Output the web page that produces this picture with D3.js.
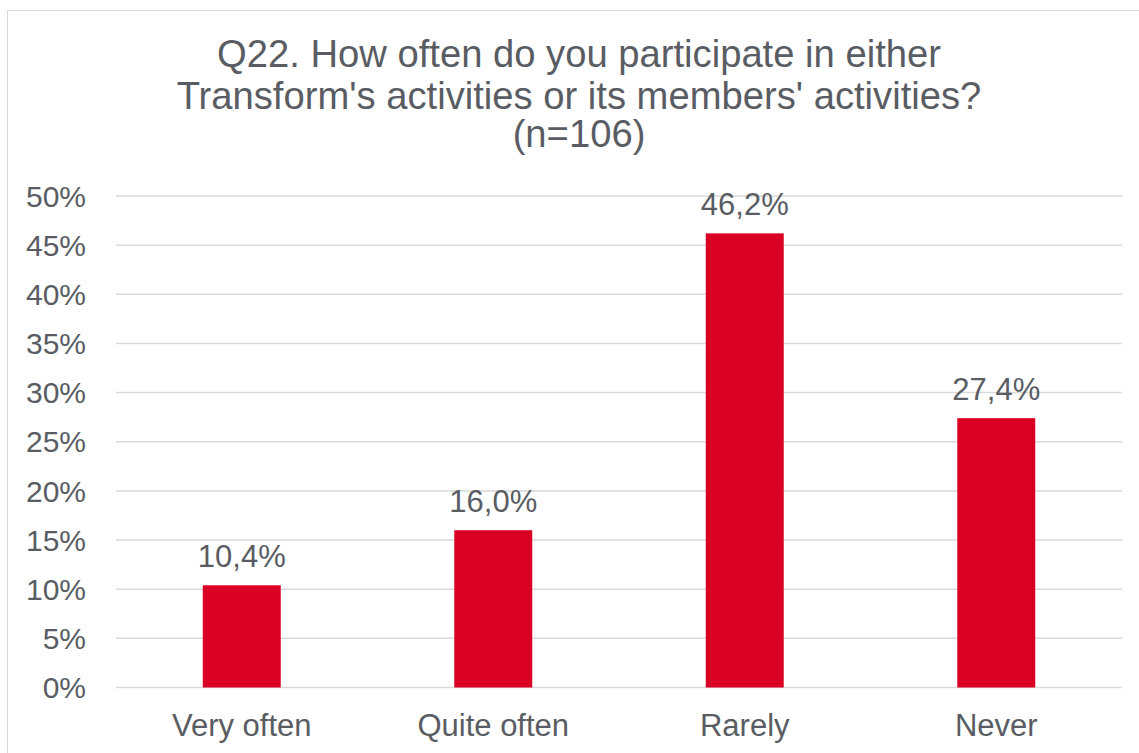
<!doctype html>
<html lang="en">
<head>
<meta charset="utf-8">
<script src="https://d3js.org/d3.v7.min.js"></script>
<style>
  body { margin: 0; background: #fff; }
  svg text { font-family: "Liberation Sans", Arial, sans-serif; fill: #595d63; }
</style>
</head>
<body>
<div id="chart"></div>
<script>
// data
var categories = ["Very often", "Quite often", "Rarely", "Never"];
var values = [10.4, 16.0, 46.2, 27.4];
var yTicks = [0, 5, 10, 15, 20, 25, 30, 35, 40, 45, 50];
var titleLines = ["Q22. How often do you participate in either",
                  "Transform's activities or its members' activities?",
                  "(n=106)"];

var width = 1139, height = 753;
var svg = d3.select("#chart").append("svg")
    .attr("width", width).attr("height", height);

// chart frame (runs off the right and bottom of the picture)
svg.append("rect")
    .attr("x", 7.5).attr("y", 10.5)
    .attr("width", 1160).attr("height", 760)
    .attr("fill", "none").attr("stroke", "#d9d9d9").attr("stroke-width", 1);

var x = d3.scaleBand().domain(categories).range([116, 1122])
    .paddingInner(0.69).paddingOuter(0.345);
var y = d3.scaleLinear().domain([0, 50]).range([687.5, 196]);

// title
var titleY = [67, 109, 147];
svg.append("g").selectAll("text")
  .data(titleLines).enter().append("text")
    .attr("x", 579)
    .attr("y", function(d, i) { return titleY[i]; })
    .attr("text-anchor", "middle")
    .style("font-size", "38.2px")
    .text(function(d) { return d; });

// gridlines
svg.append("g").selectAll("line")
  .data(yTicks).enter().append("line")
    .attr("x1", 116).attr("x2", 1122)
    .attr("y1", function(d) { return y(d); })
    .attr("y2", function(d) { return y(d); })
    .attr("stroke", "#d9d9d9").attr("stroke-width", 1.5);

// y axis labels
var yAxis = d3.axisLeft(y).tickValues(yTicks)
    .tickSize(0).tickPadding(0)
    .tickFormat(function(d) { return d + "%"; });
var yg = svg.append("g").attr("transform", "translate(86,0)").call(yAxis);
yg.select(".domain").remove();
yg.selectAll("text").style("font-size", "30px").attr("fill", "#595d63").attr("dy", "0.34em");

// x axis labels
var xAxis = d3.axisBottom(x).tickSize(0).tickPadding(0);
var xg = svg.append("g").attr("transform", "translate(0,714)").call(xAxis);
xg.select(".domain").remove();
xg.selectAll("text").style("font-size", "31px").attr("fill", "#595d63").attr("dy", "0.71em");

// bars
svg.append("g").selectAll("rect")
  .data(values).enter().append("rect")
    .attr("x", function(d, i) { return x(categories[i]); })
    .attr("y", function(d) { return y(d); })
    .attr("width", x.bandwidth())
    .attr("height", function(d) { return y(0) - y(d); })
    .attr("fill", "#d90024");

// value labels
var fmt = function(d) { return d.toFixed(1).replace(".", ",") + "%"; };
svg.append("g").selectAll("text")
  .data(values).enter().append("text")
    .attr("x", function(d, i) { return x(categories[i]) + x.bandwidth() / 2; })
    .attr("y", function(d) { return y(d) - 18; })
    .attr("text-anchor", "middle")
    .style("font-size", "31px")
    .text(fmt);
</script>
</body>
</html>
